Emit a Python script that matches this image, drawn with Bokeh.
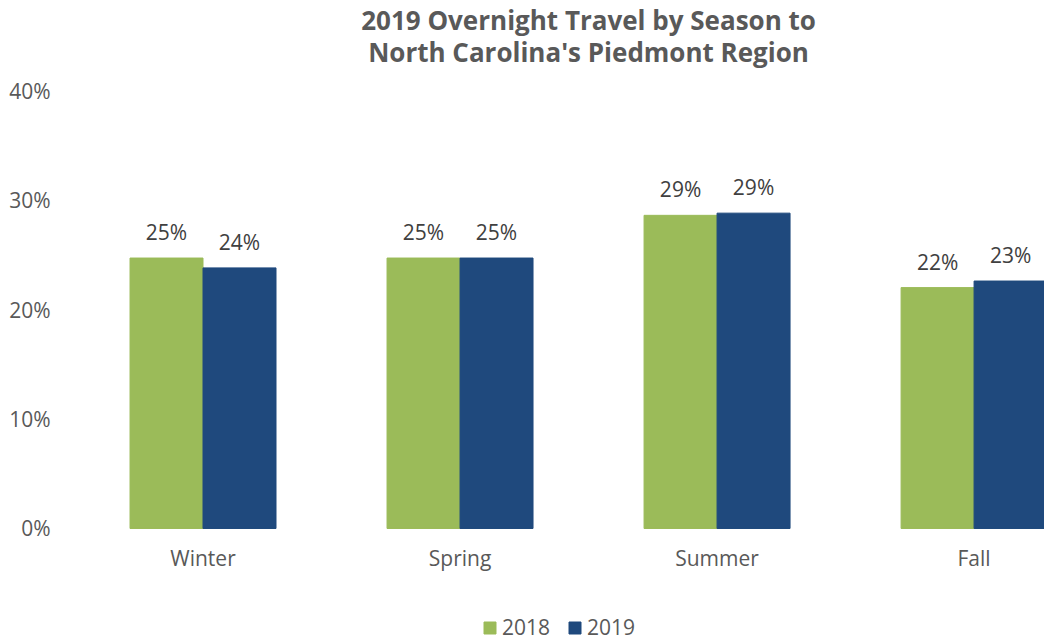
from bokeh.plotting import figure
from bokeh.models import ColumnDataSource, FixedTicker, Label, Legend, LegendItem, Range1d
from bokeh.embed import file_html
from bokeh.resources import INLINE

# ---- data ----
seasons = ["Winter", "Spring", "Summer", "Fall"]
series_names = ["2018", "2019"]
values_2018 = [24.7, 24.7, 28.6, 22.0]
values_2019 = [23.8, 24.7, 28.8, 22.6]
y_ticks = [0, 10, 20, 30, 40]
title_lines = ["2019 Overnight Travel by Season to", "North Carolina's Piedmont Region"]

colors = ["#9BBB59", "#1F497D"]
FONT = "Open Sans"

bar_w = 0.284
centers = [i + 0.5 for i in range(len(seasons))]

p = figure(width=1044, height=641, output_backend="svg", toolbar_location=None,
           x_range=Range1d(0, 3.774), y_range=Range1d(-10.32, 48.22),
           min_border_left=74, min_border_right=0, min_border_top=0, min_border_bottom=0)
p.outline_line_color = None
p.grid.visible = False
p.background_fill_color = "white"
p.border_fill_color = "white"

renderers = []
for k, (vals, col) in enumerate(zip([values_2018, values_2019], colors)):
    xs = [c + (k - 0.5) * bar_w for c in centers]
    src = ColumnDataSource(dict(x=xs, top=vals, lbl=[f"{round(v)}%" for v in vals]))
    r = p.vbar(x="x", top="top", width=bar_w, bottom=0, source=src,
               fill_color=col, line_color=col)
    renderers.append(r)
    p.text(x="x", y="top", text="lbl", source=src, text_align="center",
           text_baseline="middle", y_offset=-26, text_font_size="21px",
           text_color="#404040", text_font={"value": FONT})

# axes
p.xaxis.fixed_location = 0
p.xaxis.ticker = FixedTicker(ticks=centers)
p.xaxis.major_label_overrides = {c: s for c, s in zip(centers, seasons)}
p.yaxis.ticker = FixedTicker(ticks=y_ticks)
p.yaxis.major_label_overrides = {t: f"{t}%" for t in y_ticks}
for ax in (p.xaxis, p.yaxis):
    ax.axis_line_color = None
    ax.major_tick_line_color = None
    ax.minor_tick_line_color = None
    ax.major_tick_out = 0
    ax.major_tick_in = 0
    ax.major_label_text_font = FONT
    ax.major_label_text_font_size = "21px"
    ax.major_label_text_color = "#595959"
p.yaxis.major_label_standoff = 24
p.xaxis.major_label_standoff = 16

# title as two centered lines over the middle of the category span
mid = len(seasons) / 2
for i, line in enumerate(title_lines):
    p.add_layout(Label(x=mid, y=46.40 - 2.92 * i, text=line, text_align="center",
                       text_baseline="alphabetic", text_font=FONT,
                       text_font_style="bold", text_font_size="26px",
                       text_color="#595959"))

legend = Legend(items=[LegendItem(label=n, renderers=[r]) for n, r in zip(series_names, renderers)],
                orientation="horizontal", location=(408, 0),
                label_text_font=FONT, label_text_font_size="21px",
                label_text_color="#595959", glyph_width=15, glyph_height=15,
                label_standoff=5, spacing=17, border_line_color=None,
                background_fill_alpha=0, padding=0, margin=0)
p.add_layout(legend, "center")

open("out.html", "w").write(file_html(p, INLINE))
